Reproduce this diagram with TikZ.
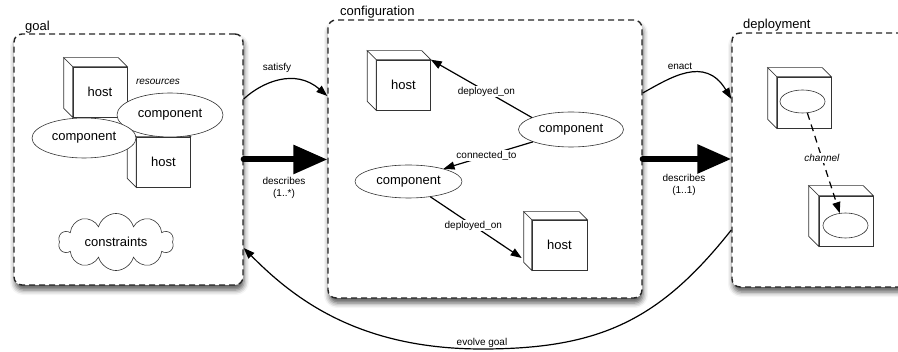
\documentclass[tikz,border=0pt]{standalone}
\usepackage{fontspec}
\setmainfont{Liberation Sans}
\usetikzlibrary{arrows.meta,calc,shapes.geometric,shapes.symbols,shadows.blur}
\newcommand\cubesides[2]{%
  \draw[cubeline] (#1.north west) -- ($(#1.north west)+(-#2,-#2)$) -- ($(#1.north east)+(-#2,-#2)$) -- (#1.north east) -- cycle;
  \draw[cubeline] (#1.north west) -- ($(#1.north west)+(-#2,-#2)$) -- ($(#1.south west)+(-#2,-#2)$) -- (#1.south west) -- cycle;}
\begin{document}
\begin{tikzpicture}[x=1pt,y=-1pt,
  grp/.style={draw=black!85, line width=1.4pt, dash pattern=on 6pt off 4pt, rounded corners=8pt, fill=white,
    blur shadow={shadow xshift=1pt, shadow yshift=-5pt, shadow blur radius=5pt, shadow opacity=65}, inner sep=0pt},
  grplabel/.style={font=\fontsize{13}{15}\selectfont, inner sep=1pt},
  cubeline/.style={draw=black!80, line width=0.6pt, fill=white},
  hostbox/.style={draw=black!80, line width=0.6pt, fill=white, minimum width=54pt, minimum height=50pt, inner sep=0pt, font=\fontsize{13}{15}\selectfont},
  comp/.style={ellipse, draw=black!80, line width=0.6pt, fill=white, inner sep=0pt, font=\fontsize{13}{15}\selectfont},
  lbl/.style={font=\fontsize{10}{12.5}\selectfont, inner sep=1pt},
  itlbl/.style={font=\fontsize{10}{12}\selectfont\itshape, inner sep=1pt},
  onlbl/.style={lbl, fill=white},
  conn/.style={line width=1.2pt, -{Triangle[length=11pt,width=8pt]}},
  bigarrow/.style={line width=6pt, line cap=round, -{Triangle[length=34pt,width=28pt]}},
  cloudbox/.style={cloud, cloud puffs=10, aspect=2.35, draw=black!80, line width=0.6pt, fill=white,
    minimum width=115pt, minimum height=49pt, inner sep=0pt, font=\fontsize{13}{15}\selectfont},
]
\useasboundingbox (0,0) rectangle (898,352);
% group boxes
\node[grp, minimum width=229pt, minimum height=251pt] (goal) at (128.5,159.5) {};
\node[grp, minimum width=314pt, minimum height=278pt] (conf) at (485,159) {};
\node[grp, minimum width=188pt, minimum height=254pt] (deploy) at (826,160) {};
\node[grplabel, anchor=west] (goallbl) at (24,27) {goal};
\node[grplabel, anchor=west] (conflbl) at (339,12) {configuration};
\node[grplabel, anchor=west] (deplbl) at (742,25) {deployment};
% goal contents
\node[hostbox] (gh1) at (100,92) {host}; \cubesides{gh1}{9}
\node[hostbox] (gh2) at (163.5,162) {host}; \cubesides{gh2}{9}
\node[comp, minimum width=106pt, minimum height=44pt] (gc1) at (170,115) {component};
\node[comp, minimum width=104pt, minimum height=40pt] (gc2) at (84,138) {component};
\node[itlbl] (res) at (158,82) {resources};
\node[cloudbox] (cons) at (116,242) {constraints};
% configuration contents
\node[hostbox] (ch1) at (403.5,85) {host}; \cubesides{ch1}{9}
\node[hostbox, minimum width=55pt] (ch2) at (559.5,245) {host}; \cubesides{ch2}{8}
\node[comp, minimum width=105pt, minimum height=35pt] (cR) at (571,129.5) {component};
\node[comp, minimum width=107pt, minimum height=33pt] (cL) at (408.5,181.5) {component};
% deployment contents
\node[hostbox, minimum height=51pt] (dh1) at (804,102.5) {}; \cubesides{dh1}{9}
\node[comp, minimum width=45pt, minimum height=23pt] (de1) at (802.5,101.5) {};
\node[hostbox] (dh2) at (846,221) {}; \cubesides{dh2}{10}
\node[comp, minimum width=45pt, minimum height=25pt] (de2) at (845.5,225.5) {};
% inner connectors
\draw[conn] (cR.163) -- node[onlbl, pos=0.45] {deployed\_on} (ch1.north east);
\draw[conn] (cR.198) -- node[onlbl, pos=0.52] {connected\_to} (cL.20);
\draw[conn] (cL.-35) -- node[onlbl, pos=0.47] {deployed\_on} ([shift={(-10,13)}]ch2.west);
\draw[conn, dash pattern=on 7pt off 5pt] (de1.-67) -- node[itlbl, fill=white, pos=0.45] {channel} (de2.115);
% between groups
\draw[conn] ([yshift=60.5]goal.east) .. controls (262,82) and (295,68) .. ([yshift=63]conf.west);
\node[lbl] (satl) at (277,68) {satisfy};
\draw[bigarrow] (goal.east) -- (goal.east -| conf.west);
\node[lbl, align=center] (desc1) at (284,188) {describes\\(1..*)};
\draw[conn] ([yshift=66]conf.east) .. controls (670,78) and (705,55) .. ([yshift=61]deploy.west);
\node[lbl] (enl) at (680,66) {enact};
\draw[bigarrow] (conf.east) -- (conf.east -| deploy.west);
\node[lbl, align=center] (desc2) at (684,185) {describes\\(1..1)};
\draw[conn] ([yshift=-70]deploy.west) .. controls (660,320) and (600,349) .. (482,349) .. controls (360,349) and (295,300) .. ([yshift=-88.5]goal.east);
\node[lbl] (evl) at (482,343) {evolve goal};
\end{tikzpicture}
\end{document}
